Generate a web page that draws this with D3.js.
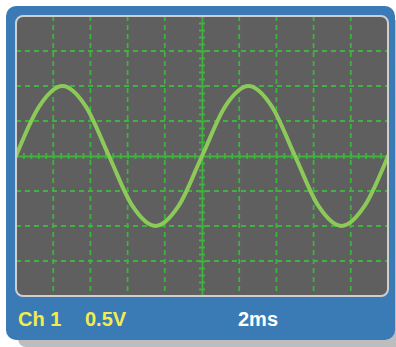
<!DOCTYPE html>
<html>
<head>
<meta charset="utf-8">
<script src="https://cdn.jsdelivr.net/npm/d3@7"></script>
<style>
  body { margin: 0; background: #fff; }
  text { font-family: "Liberation Sans", Arial, sans-serif; font-weight: bold; }
</style>
</head>
<body>
<div id="vis"></div>
<script>
// Screen divisions: 10 across at 2 ms, 8 up at 0.5 V
const timeDivs = [0, 2, 4, 6, 8, 10, 12, 14, 16, 18, 20];      // ms
const voltDivs = [-2, -1.5, -1, -0.5, 0, 0.5, 1, 1.5, 2];       // V

// Trace samples (every 1.25 ms)
const traceTime = [0, 1.25, 2.5, 3.75, 5, 6.25, 7.5, 8.75, 10,
                   11.25, 12.5, 13.75, 15, 16.25, 17.5, 18.75, 20];
const traceVolt = [0, 0.71, 1, 0.71, 0, -0.71, -1, -0.71, 0,
                   0.71, 1, 0.71, 0, -0.71, -1, -0.71, 0];

// Readout labels
const channelLabel = 'Ch 1';
const voltLabel = '0.5V';
const timeLabel = '2ms';

const W = 396, H = 347;
const screen = {left: 16, top: 16, right: 388, bottom: 296};

const svg = d3.select('#vis')
    .append('svg')
    .attr('width', W)
    .attr('height', H);

// drop shadow + blue body
svg.append('rect')
    .attr('x', 18).attr('y', 20)
    .attr('width', 390).attr('height', 327)
    .attr('rx', 8)
    .attr('fill', '#bdbdbf');

svg.append('rect')
    .attr('x', 6).attr('y', 6)
    .attr('width', 389).attr('height', 334)
    .attr('rx', 10)
    .attr('fill', '#3a7bb6');

// scales
const x = d3.scaleLinear()
    .domain([timeDivs[0], timeDivs[timeDivs.length - 1]])
    .range([screen.left, screen.right]);
const y = d3.scaleLinear()
    .domain([voltDivs[0], voltDivs[voltDivs.length - 1]])
    .range([screen.bottom, screen.top]);

svg.append('clipPath').attr('id', 'scr')
    .append('rect')
    .attr('x', screen.left).attr('y', screen.top)
    .attr('width', screen.right - screen.left)
    .attr('height', screen.bottom - screen.top)
    .attr('rx', 7);

svg.append('rect')
    .attr('x', screen.left).attr('y', screen.top)
    .attr('width', screen.right - screen.left)
    .attr('height', screen.bottom - screen.top)
    .attr('rx', 7)
    .attr('fill', '#5f5f60');

const g = svg.append('g').attr('clip-path', 'url(#scr)');
const gridColor = '#3fb23f';

// dashed grid (skip the centre lines, drawn solid below)
g.selectAll('line.vgrid')
    .data(timeDivs.filter(d => d !== 10))
    .enter().append('line')
    .attr('class', 'vgrid')
    .attr('x1', d => x(d)).attr('x2', d => x(d))
    .attr('y1', screen.top).attr('y2', screen.bottom)
    .attr('stroke', gridColor)
    .attr('stroke-width', 1.8)
    .attr('stroke-dasharray', '5 4');

g.selectAll('line.hgrid')
    .data(voltDivs.filter(d => d !== 0))
    .enter().append('line')
    .attr('class', 'hgrid')
    .attr('x1', screen.left).attr('x2', screen.right)
    .attr('y1', d => y(d)).attr('y2', d => y(d))
    .attr('stroke', gridColor)
    .attr('stroke-width', 1.8)
    .attr('stroke-dasharray', '5 4');

// centre axes with minor ticks (5 per division)
const xAxis = d3.axisBottom(x)
    .tickValues(d3.range(0, 20.01, 0.4))
    .tickSizeInner(3).tickSizeOuter(0)
    .tickFormat('');
const xAx = g.append('g')
    .attr('transform', `translate(0,${y(0)})`)
    .call(xAxis);
xAx.selectAll('line').clone().attr('y2', -3);

const yAxis = d3.axisLeft(y)
    .tickValues(d3.range(-2, 2.01, 0.1))
    .tickSizeInner(3).tickSizeOuter(0)
    .tickFormat('');
const yAx = g.append('g')
    .attr('transform', `translate(${x(10)},0)`)
    .call(yAxis);
yAx.selectAll('line').clone().attr('x2', 3);

g.selectAll('.domain, .tick line')
    .attr('stroke', gridColor)
    .attr('stroke-width', 1.8);

// trace
const trace = traceTime.map((t, i) => ({t, v: traceVolt[i]}));
const line = d3.line()
    .x(d => x(d.t))
    .y(d => y(d.v))
    .curve(d3.curveCatmullRom.alpha(0));

g.append('path')
    .datum(trace)
    .attr('d', line)
    .attr('fill', 'none')
    .attr('stroke', '#8cc958')
    .attr('stroke-width', 4)
    .attr('stroke-linecap', 'round');

// screen bezel
svg.append('rect')
    .attr('x', screen.left).attr('y', screen.top)
    .attr('width', screen.right - screen.left)
    .attr('height', screen.bottom - screen.top)
    .attr('rx', 7)
    .attr('fill', 'none')
    .attr('stroke', '#cfcfd0')
    .attr('stroke-width', 2);

// readouts
svg.append('text').attr('x', 18).attr('y', 326)
    .attr('font-size', 20).attr('fill', '#f4ec4c').text(channelLabel);
svg.append('text').attr('x', 85).attr('y', 326)
    .attr('font-size', 20).attr('fill', '#f4ec4c').text(voltLabel);
svg.append('text').attr('x', 238).attr('y', 326)
    .attr('font-size', 20).attr('fill', '#ffffff').text(timeLabel);
</script>
</body>
</html>
